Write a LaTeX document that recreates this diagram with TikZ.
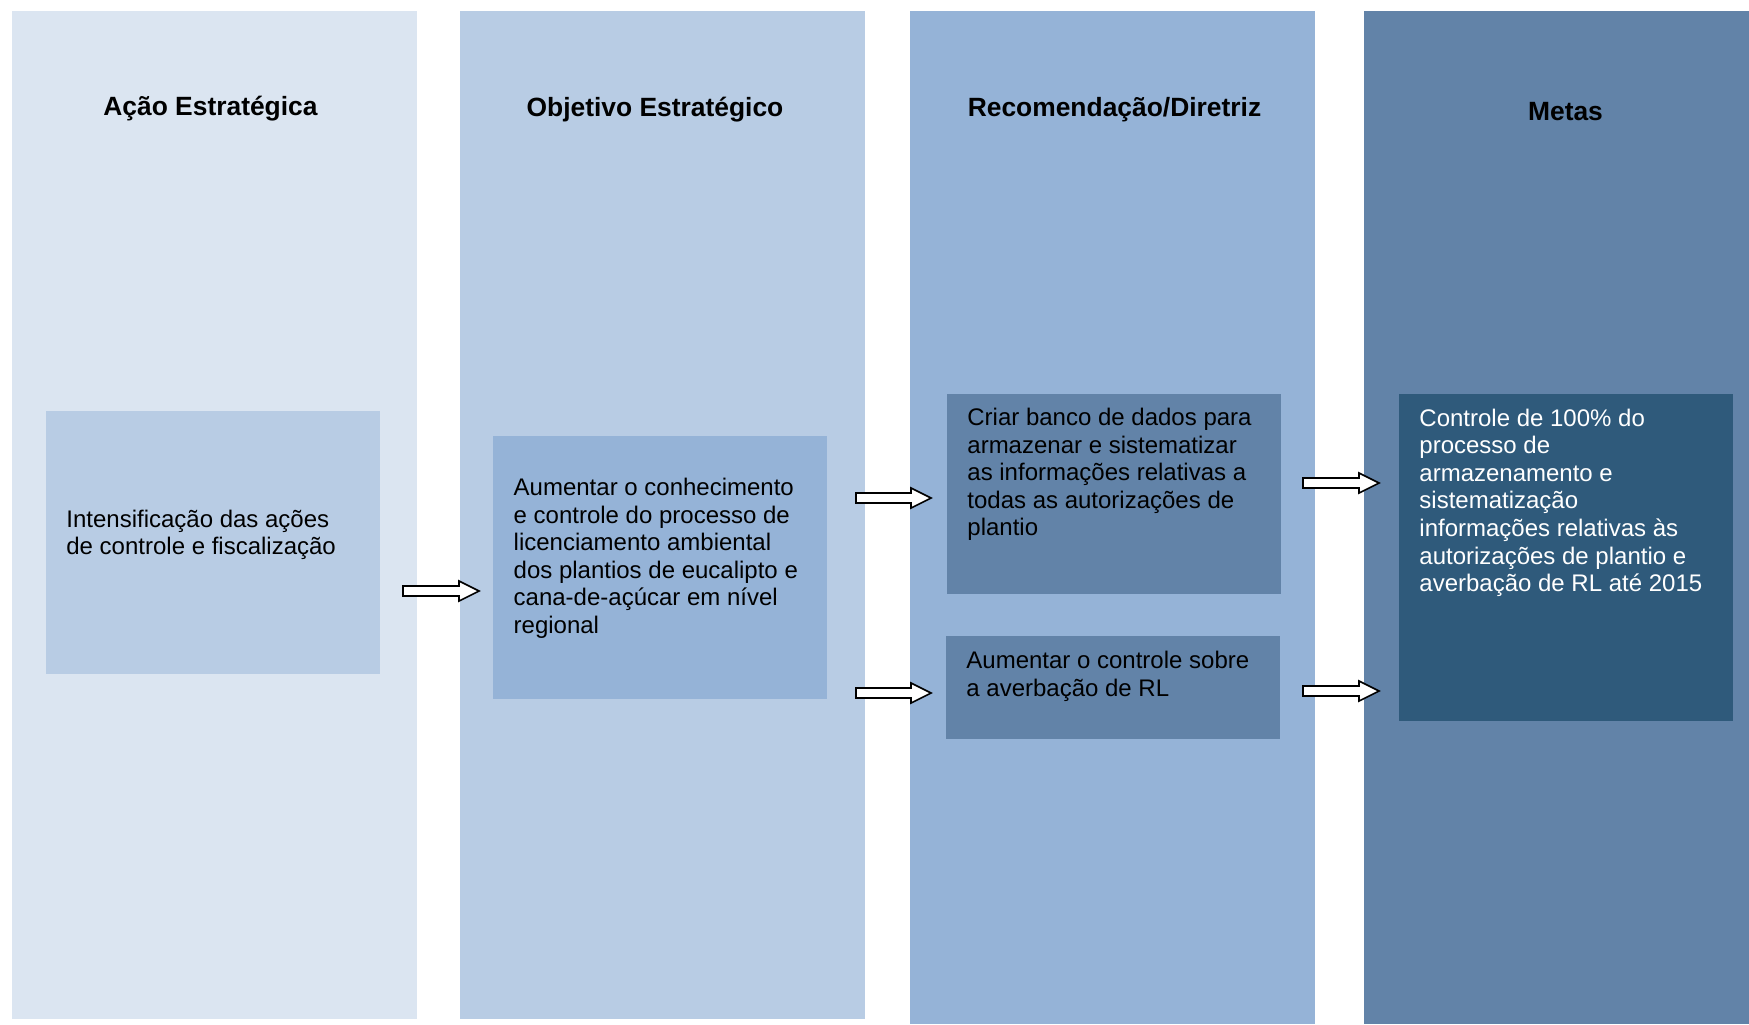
\documentclass[tikz,border=0pt]{standalone}
\usepackage{fontspec}
\setmainfont{Liberation Sans}
\usetikzlibrary{fit,calc}

\definecolor{laneA}{HTML}{DBE5F1}
\definecolor{laneB}{HTML}{B8CCE4}
\definecolor{laneC}{HTML}{95B3D7}
\definecolor{laneD}{HTML}{6283A8}
\definecolor{boxD}{HTML}{2F5A7B}

\tikzset{
  lane/.style={inner sep=0pt, outer sep=0pt, draw=none},
  card/.style={inner sep=0pt, outer sep=0pt, draw=none},
  heading/.style={inner sep=0pt, anchor=base, font=\fontsize{13.2}{15.8}\selectfont\bfseries},
  body/.style={inner sep=0pt, anchor=north west, align=left,
    font=\fontsize{12}{13.8}\selectfont},
  blockarrow/.style={draw=black, fill=white, line width=0.8pt, line join=miter}
}

% hollow block arrow from tail coordinate #1 to tip coordinate #2
\newcommand\blockarrow[2]{%
  \draw[blockarrow] ($(#1)+(0,-5)$) -- ($(#2)+(-20,-5)$) -- ($(#2)+(-20,-10)$)
    -- (#2) -- ($(#2)+(-20,10)$) -- ($(#2)+(-20,5)$) -- ($(#1)+(0,5)$) -- cycle;}

\begin{document}
\begin{tikzpicture}[x=0.5pt,y=-0.5pt]
\useasboundingbox (0,0) rectangle (1749,1024);

% columns
\node[lane, fill=laneA, fit={(12,11) (417,1019)}] (laneA) {};
\node[lane, fill=laneB, fit={(460,11) (865,1019)}] (laneB) {};
\node[lane, fill=laneC, fit={(910,11) (1315,1024)}] (laneC) {};
\node[lane, fill=laneD, fit={(1364,11) (1749,1024)}] (laneD) {};

% headings
\node[heading] (hA) at (210.5,115) {Ação Estratégica};
\node[heading] (hB) at (655,116) {Objetivo Estratégico};
\node[heading] (hC) at (1114.5,116) {Recomendação/Diretriz};
\node[heading] (hD) at (1565.5,120) {Metas};

% cards
\node[card, fill=laneB, fit={(46,411) (380,674)}] (cA) {};
\node[card, fill=laneC, fit={(493,436) (827,699)}] (cB) {};
\node[card, fill=laneD, fit={(947,394) (1281,594)}] (cC1) {};
\node[card, fill=laneD, fit={(946,636) (1280,739)}] (cC2) {};
\node[card, fill=boxD, fit={(1399,394) (1733,721)}] (cD) {};

% card texts (top = first baseline minus strut height)
\node[body] (tA) at (66,507.4) {\strut Intensificação das ações\\de controle e fiscalização};
\node[body] (tB) at (513.3,475.7) {\strut Aumentar o conhecimento\\e controle do processo de\\licenciamento ambiental\\dos plantios de eucalipto e\\cana-de-açúcar em nível\\regional};
\node[body] (tC1) at (967,405.7) {\strut Criar banco de dados para\\armazenar e sistematizar\\as informações relativas a\\todas as autorizações de\\plantio};
\node[body] (tC2) at (966,648.7) {\strut Aumentar o controle sobre\\a averbação de RL};
\node[body, text=white] (tD) at (1419,406.4) {\strut Controle de 100\% do\\processo de\\armazenamento e\\sistematização\\informações relativas às\\autorizações de plantio e\\averbação de RL até 2015};

% arrow anchors in the gaps between columns
\coordinate (a1s) at (403,591);  \coordinate (a1e) at (479,591);
\coordinate (a2s) at (856,498);  \coordinate (a2e) at (931,498);
\coordinate (a3s) at (856,693);  \coordinate (a3e) at (931,693);
\coordinate (a4s) at (1303,483); \coordinate (a4e) at (1379,483);
\coordinate (a5s) at (1303,691); \coordinate (a5e) at (1379,691);

\blockarrow{a1s}{a1e}
\blockarrow{a2s}{a2e}
\blockarrow{a3s}{a3e}
\blockarrow{a4s}{a4e}
\blockarrow{a5s}{a5e}
\end{tikzpicture}
\end{document}
